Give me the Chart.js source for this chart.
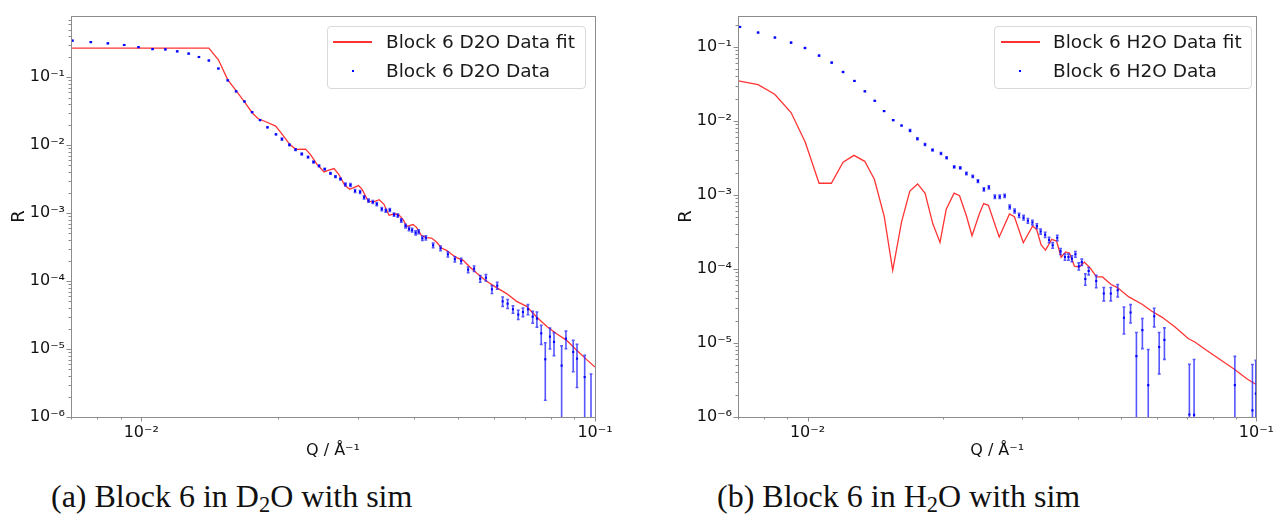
<!DOCTYPE html>
<html>
<head>
<meta charset="utf-8">
<script src="https://cdn.jsdelivr.net/npm/chart.js@4.4.1/dist/chart.umd.min.js"></script>
<style>
  body { margin: 0; background: #fff; width: 1280px; height: 514px; overflow: hidden; position: relative; font-family: 'DejaVu Sans'; }
  canvas { position: absolute; top: 0; }
  #chartD2O { left: 0; }
  #chartH2O { left: 640px; }
  .legend { position: absolute; top: 26px; height: 63px; box-sizing: border-box; border: 1px solid #d9d9d9; border-radius: 4px; background: rgba(255,255,255,0.8); }
  .lg-line { position: absolute; top: 41px; height: 1.5px; background: rgba(255,0,0,0.8); }
  .lg-dot { position: absolute; top: 70px; width: 2px; height: 2px; background: #0000ff; }
  .lg-text { position: absolute; font-size: 18.5px; line-height: 20px; color: #1a1a1a; white-space: nowrap; }
  .caption { position: absolute; top: 480px; font-family: 'Liberation Serif'; font-size: 32px; line-height: 32px; white-space: nowrap; color: #111; }
  .caption sub { font-size: 0.7em; vertical-align: -0.22em; line-height: 0; }
</style>
</head>
<body>
<canvas id="chartD2O" width="640" height="470"></canvas>
<canvas id="chartH2O" width="640" height="470"></canvas>

<div class="legend" style="left:327px; width:259px;"></div>
<div class="lg-line" style="left:333px; width:39px;"></div>
<div class="lg-text" style="left:386px; top:32px;">Block 6 D2O Data fit</div>
<div class="lg-dot" style="left:352px;"></div>
<div class="lg-text" style="left:386px; top:61px;">Block 6 D2O Data</div>

<div class="legend" style="left:994px; width:258px;"></div>
<div class="lg-line" style="left:1001px; width:39px;"></div>
<div class="lg-text" style="left:1053px; top:32px;">Block 6 H2O Data fit</div>
<div class="lg-dot" style="left:1019px;"></div>
<div class="lg-text" style="left:1053px; top:61px;">Block 6 H2O Data</div>

<div class="caption" style="left:51px;">(a) Block 6 in D<sub>2</sub>O with sim</div>
<div class="caption" style="left:717px;">(b) Block 6 in H<sub>2</sub>O with sim</div>

<script>
// D2O measured reflectivity (Q in 1/Angstrom), with error bars
const qD2O = [0.00705, 0.00774, 0.00844, 0.00917, 0.00986, 0.01059, 0.01130, 0.01200, 0.01272, 0.01340,
  0.01409, 0.01479, 0.01551, 0.01618, 0.01688, 0.01755, 0.01827, 0.01897, 0.01981, 0.02042,
  0.02121, 0.02188, 0.02258, 0.02331, 0.02397, 0.02465, 0.02537, 0.02612, 0.02679, 0.02748,
  0.02818, 0.02891, 0.02959, 0.03036, 0.03098, 0.03168, 0.03238, 0.03304, 0.03389, 0.03459,
  0.03530, 0.03607, 0.03676, 0.03741, 0.03823, 0.03891, 0.03953, 0.04024, 0.04086, 0.04164,
  0.04238, 0.04398, 0.04566, 0.04739, 0.04910, 0.05070, 0.05253, 0.05415, 0.05585, 0.05749,
  0.05927, 0.06089, 0.06258, 0.06418, 0.06594, 0.06774, 0.06938, 0.07116, 0.07289, 0.07447,
  0.07612, 0.07770, 0.07956, 0.08121, 0.08442, 0.08629, 0.08954, 0.09127, 0.09490, 0.09799];
const rD2O = [0.343, 0.327, 0.313, 0.296, 0.276, 0.258, 0.255, 0.239, 0.221, 0.197,
  0.175, 0.1334, 0.0894, 0.0617, 0.0437, 0.0305, 0.0233, 0.0182, 0.01436, 0.01222,
  0.01007, 0.00856, 0.00738, 0.00664, 0.00562, 0.00494, 0.00443, 0.00383, 0.00343, 0.00316,
  0.00264, 0.00258, 0.00211, 0.00204, 0.00170, 0.00152, 0.00145, 0.001355, 0.001145, 0.001084,
  0.001106, 0.000946, 0.000916, 0.000776, 0.000645, 0.000586, 0.000561, 0.000512, 0.000532, 0.000425,
  0.000432, 0.000335, 0.000303, 0.000247, 0.000209, 0.000197, 0.000147, 0.000152, 0.000108, 0.000112,
  7.55e-5, 8.55e-5, 5.02e-5, 4.65e-5, 3.84e-5, 3.21e-5, 3.50e-5, 3.84e-5, 2.99e-5, 2.80e-5,
  1.70e-5, 7.06e-6, 1.52e-5, 1.27e-5, 5.70e-6, 1.42e-5, 9.04e-6, 7.22e-6, 3.87e-6, 9.0e-7];
const eD2O = [0.0034, 0.0033, 0.0031, 0.003, 0.0028, 0.0026, 0.0026, 0.0024, 0.0022, 0.002,
  0.0018, 0.0013, 0.0009, 0.0006, 0.00044, 0.0003, 0.00023, 0.00018, 0.00015, 0.0004,
  0.0003, 0.00026, 0.00022, 0.0002, 0.00017, 0.00015, 0.00013, 0.00012, 0.0001, 0.0001,
  0.00013, 0.00013, 0.00011, 0.0001, 9e-5, 8e-5, 7e-5, 7e-5, 6e-5, 5.5e-5,
  5.5e-5, 5e-5, 5e-5, 4.5e-5, 4e-5, 3.5e-5, 3.5e-5, 3.5e-5, 3.5e-5, 3e-5,
  3e-5, 2.6e-5, 2.4e-5, 2.1e-5, 1.9e-5, 1.8e-5, 1.4e-5, 1.4e-5, 1.2e-5, 1.2e-5,
  1.0e-5, 1.0e-5, 7.9e-6, 7.0e-6, 4.8e-6, 5.0e-6, 5.1e-6, 6.5e-6, 5.9e-6, 7.0e-6,
  5.3e-6, 5.3e-6, 5.2e-6, 4.7e-6, 5.4e-6, 4.1e-6, 4.4e-6, 4.5e-6, 4.2e-6, 3.4e-6];

// D2O simulated fit
const qFitD2O = [0.00700, 0.01409, 0.01479, 0.01551, 0.01621, 0.01690, 0.01757, 0.01807, 0.01887, 0.01978,
  0.02053, 0.02124, 0.02189, 0.02302, 0.02358, 0.02440, 0.02528, 0.02580, 0.02660, 0.02724,
  0.02808, 0.02880, 0.03012, 0.03067, 0.03162, 0.03243, 0.03344, 0.03424, 0.03517, 0.03607,
  0.03688, 0.03776, 0.03848, 0.03973, 0.04042, 0.04142, 0.04252, 0.04362, 0.04474, 0.04589,
  0.04708, 0.04830, 0.04954, 0.05124, 0.05298, 0.05482, 0.05768, 0.06068, 0.06384, 0.06718,
  0.07067, 0.07435, 0.07822, 0.08230, 0.08658, 0.09113, 0.09587, 0.1000];
const rFitD2O = [0.267, 0.267, 0.179, 0.0910, 0.0621, 0.0429, 0.0296, 0.0245, 0.0218, 0.0190,
  0.0139, 0.01024, 0.00865, 0.00873, 0.00730, 0.00520, 0.00401, 0.00425, 0.00450, 0.00371,
  0.00255, 0.00223, 0.00253, 0.00223, 0.00150, 0.00145, 0.00157, 0.001355, 0.000925, 0.000967,
  0.000957, 0.000799, 0.000637, 0.000677, 0.000616, 0.000470, 0.000435, 0.000429, 0.000375, 0.000306,
  0.000283, 0.000247, 0.000221, 0.000201, 0.000161, 0.000131, 9.91e-5, 8.00e-5, 6.53e-5, 5.02e-5,
  4.24e-5, 2.96e-5, 2.16e-5, 1.68e-5, 1.34e-5, 9.58e-6, 6.98e-6, 5.43e-6];

// H2O measured reflectivity
const qH2O = [0.00707, 0.00776, 0.00846, 0.00919, 0.00987, 0.01061, 0.01132, 0.01200, 0.01272, 0.01342,
  0.01412, 0.01481, 0.01552, 0.01620, 0.01692, 0.01757, 0.01827, 0.01899, 0.01983, 0.02041,
  0.02122, 0.02189, 0.02259, 0.02334, 0.02397, 0.02471, 0.02535, 0.02614, 0.02680, 0.02749,
  0.02821, 0.02893, 0.02960, 0.03029, 0.03097, 0.03170, 0.03243, 0.03306, 0.03384, 0.03453,
  0.03517, 0.03601, 0.03662, 0.03745, 0.03814, 0.03881, 0.03952, 0.04021, 0.04083, 0.04158,
  0.04230, 0.04397, 0.04571, 0.04738, 0.04909, 0.05069, 0.05244, 0.05404, 0.05572, 0.05742,
  0.05921, 0.06073, 0.06239, 0.07091, 0.07264, 0.08954, 0.09799, 0.09970];
const rH2O = [0.1862, 0.1567, 0.1340, 0.1146, 0.0968, 0.0765, 0.0615, 0.0459, 0.0347, 0.0252,
  0.01874, 0.01361, 0.01028, 0.00867, 0.00741, 0.00574, 0.00480, 0.00405, 0.00364, 0.00318,
  0.00239, 0.00232, 0.00195, 0.00178, 0.00154, 0.00119, 0.00127, 0.000948, 0.000948, 0.000975,
  0.000689, 0.000608, 0.000532, 0.000495, 0.000448, 0.000424, 0.000380, 0.000321, 0.000290, 0.000247,
  0.000209, 0.000264, 0.000173, 0.000145, 0.000145, 0.000138, 0.000158, 0.000109, 0.000124, 7.33e-5,
  9.39e-5, 6.89e-5, 4.66e-5, 4.66e-5, 5.16e-5, 2.19e-5, 2.58e-5, 6.65e-6, 1.49e-5, 2.70e-6,
  2.30e-5, 8.83e-6, 1.10e-5, 1.08e-6, 1.07e-6, 2.70e-6, 1.23e-6, 2.07e-6];
const eH2O = [0.0019, 0.0016, 0.0013, 0.0011, 0.001, 0.0008, 0.0006, 0.0005, 0.00035, 0.00025,
  0.0002, 0.00014, 0.0001, 9e-5, 0.00022, 0.00017, 0.00014, 0.00012, 0.00011, 0.0001,
  8e-5, 8e-5, 7e-5, 6e-5, 6e-5, 6e-5, 6e-5, 5e-5, 5e-5, 5e-5,
  4e-5, 3.5e-5, 3.5e-5, 3.5e-5, 3.2e-5, 3e-5, 2.8e-5, 2.5e-5, 2.4e-5, 2.1e-5,
  1.8e-5, 2.2e-5, 1.6e-5, 1.4e-5, 1.4e-5, 1.3e-5, 1.4e-5, 1.2e-5, 1.2e-5, 1.3e-5,
  1.1e-5, 1.3e-5, 9.5e-6, 9.5e-6, 9.8e-6, 8.7e-6, 7.2e-6, 7.2e-6, 6.5e-6, 5.45e-6,
  6.5e-6, 5.0e-6, 5.0e-6, 4.07e-6, 4.9e-6, 3.9e-6, 3.9e-6, 3.76e-6];

// H2O simulated fit
const qFitH2O = [0.00701, 0.00776, 0.00845, 0.00919, 0.00988, 0.01061, 0.01130, 0.01200, 0.01269, 0.01341,
  0.01409, 0.01482, 0.01548, 0.01620, 0.01690, 0.01759, 0.01828, 0.01901, 0.01973, 0.02037,
  0.02121, 0.02181, 0.02259, 0.02325, 0.02416, 0.02468, 0.02529, 0.02673, 0.02818, 0.02890,
  0.03025, 0.03173, 0.03239, 0.03315, 0.03390, 0.03501, 0.03589, 0.03673, 0.03757, 0.03834,
  0.03932, 0.04033, 0.04136, 0.04257, 0.04404, 0.04541, 0.04738, 0.04901, 0.05199, 0.05563,
  0.05850, 0.06157, 0.06588, 0.07047, 0.07292, 0.07799, 0.08346, 0.08930, 0.09555, 0.09970];
const rFitH2O = [0.0348, 0.0310, 0.0230, 0.0130, 0.00520, 0.00144, 0.00144, 0.00277, 0.00343, 0.00285,
  0.00163, 0.000515, 9.6e-5, 0.000432, 0.00113, 0.00141, 0.00105, 0.000411, 0.000228, 0.000641,
  0.00106, 0.000975, 0.000524, 0.000281, 0.000561, 0.000766, 0.000726, 0.000270, 0.000553, 0.000507,
  0.000226, 0.000381, 0.000342, 0.000211, 0.000180, 0.000252, 0.000237, 0.000144, 0.000170, 0.000164,
  0.000109, 0.000106, 0.000124, 0.000104, 7.80e-5, 7.80e-5, 6.21e-5, 5.61e-5, 4.19e-5, 3.34e-5,
  2.68e-5, 2.24e-5, 1.64e-5, 1.15e-5, 1.03e-5, 7.73e-6, 5.83e-6, 4.42e-6, 3.23e-6, 2.77e-6];

// tick labels
const xDecades = [0.001, 0.01, 0.1];
const xTickValues = [0.01, 0.1];
const xTickLabels = ['10⁻²', '10⁻¹'];
const yDecades = [1e-6, 1e-5, 1e-4, 1e-3, 1e-2, 1e-1];
const yTickValues = [1e-6, 1e-5, 1e-4, 1e-3, 1e-2, 1e-1];
const yTickLabels = ['10⁻⁶', '10⁻⁵', '10⁻⁴', '10⁻³', '10⁻²', '10⁻¹'];

const AXIS_GRAY = '#8c8c8c';

// 1..9 x decade tick positions inside the axis range
function logTicks(decades, min, max) {
  const out = [];
  decades.forEach(d => {
    for (let k = 1; k < 10; k++) {
      const v = d * k;
      if (v >= min * 0.999 && v <= max * 1.001) out.push({ value: v, major: k === 1 });
    }
  });
  return out;
}

function labelFor(values, labels, v) {
  const i = values.findIndex(t => Math.abs(t - v) / t < 1e-6);
  return i >= 0 ? labels[i] : '';
}

// vertical error bars, drawn just before the data points
const errorBars = {
  id: 'errorBars',
  beforeDatasetDraw(chart, args) {
    const ds = chart.data.datasets[args.index];
    if (!ds.errors) return;
    const { ctx, chartArea: a, scales: { x, y } } = chart;
    ctx.save();
    ctx.beginPath();
    ctx.rect(a.left, a.top, a.right - a.left, a.bottom - a.top);
    ctx.clip();
    ctx.strokeStyle = 'rgba(30,30,255,0.75)';
    ctx.lineWidth = 1.6;
    ds.data.forEach((p, i) => {
      const e = ds.errors[i];
      const px = x.getPixelForValue(p.x);
      const top = y.getPixelForValue(p.y + e);
      const low = p.y - e;
      const bot = low > 0 ? y.getPixelForValue(low) : a.bottom + 10;
      ctx.beginPath();
      ctx.moveTo(px, top); ctx.lineTo(px, bot);
      ctx.moveTo(px - 1.4, top); ctx.lineTo(px + 1.4, top);
      ctx.moveTo(px - 1.4, bot); ctx.lineTo(px + 1.4, bot);
      ctx.stroke();
    });
    ctx.restore();
  }
};

// full box round the axes plus outward tick marks (bottom and left)
const frame = {
  id: 'frame',
  afterDraw(chart) {
    const { ctx, chartArea: a, scales: { x, y } } = chart;
    ctx.save();
    ctx.strokeStyle = AXIS_GRAY;
    ctx.lineWidth = 1;
    ctx.strokeRect(Math.round(a.left) + 0.5, Math.round(a.top) + 0.5,
      Math.round(a.right - a.left), Math.round(a.bottom - a.top));
    ctx.beginPath();
    x.ticks.forEach(t => {
      const px = Math.round(x.getPixelForValue(t.value)) + 0.5;
      const len = t.major ? 4.5 : 2.5;
      ctx.moveTo(px, a.bottom); ctx.lineTo(px, a.bottom + len);
    });
    y.ticks.forEach(t => {
      const py = Math.round(y.getPixelForValue(t.value)) + 0.5;
      const len = t.major ? 4.5 : 2.5;
      ctx.moveTo(a.left, py); ctx.lineTo(a.left - len, py);
    });
    ctx.stroke();
    ctx.restore();
  }
};

function makeChart(id, s) {
  const ctx = document.getElementById(id).getContext('2d');
  return new Chart(ctx, {
    type: 'scatter',
    data: {
      datasets: [{
        label: s.dataLabel,
        data: s.q.map((q, i) => ({ x: q, y: s.r[i] })),
        errors: s.e,
        pointStyle: 'rect',
        pointRadius: 1.5,
        borderWidth: 0,
        backgroundColor: '#0000ff'
      }, {
        label: s.fitLabel,
        data: s.qFit.map((q, i) => ({ x: q, y: s.rFit[i] })),
        showLine: true,
        pointRadius: 0,
        borderColor: 'rgba(255,0,0,0.8)',
        borderWidth: 1.3,
        tension: 0
      }]
    },
    options: {
      responsive: false,
      animation: false,
      devicePixelRatio: 1,
      events: [],
      layout: { padding: { top: 16, right: s.padRight, left: 0, bottom: 0 } },
      plugins: { legend: { display: false }, tooltip: { enabled: false } },
      scales: {
        x: {
          type: 'logarithmic',
          min: 0.007,
          max: 0.1,
          afterBuildTicks: sc => { sc.ticks = logTicks(xDecades, 0.007, 0.1); },
          afterFit: sc => { sc.height = 53; },
          grid: { display: false, drawTicks: false },
          border: { display: false },
          ticks: {
            autoSkip: false, maxRotation: 0, padding: 6,
            color: '#111', font: { family: 'DejaVu Sans', size: 16 },
            callback: v => labelFor(xTickValues, xTickLabels, v)
          },
          title: {
            display: true, text: 'Q / Å⁻¹', color: '#111',
            font: { family: 'DejaVu Sans', size: 16 },
            padding: { top: 0, bottom: 10 }
          }
        },
        y: {
          type: 'logarithmic',
          min: 1e-6,
          max: s.yMax,
          afterBuildTicks: sc => { sc.ticks = logTicks(yDecades, 1e-6, s.yMax); },
          afterFit: sc => { sc.width = s.yWidth; },
          grid: { display: false, drawTicks: false },
          border: { display: false },
          ticks: {
            autoSkip: false, padding: 6,
            color: '#111', font: { family: 'DejaVu Sans', size: 16 },
            callback: v => labelFor(yTickValues, yTickLabels, v)
          },
          title: {
            display: true, text: 'R', color: '#111',
            font: { family: 'DejaVu Sans', size: 18 },
            padding: { top: s.yTitlePad, bottom: 0 }
          }
        }
      }
    },
    plugins: [errorBars, frame]
  });
}

makeChart('chartD2O', {
  q: qD2O, r: rD2O, e: eD2O, qFit: qFitD2O, rFit: rFitD2O,
  dataLabel: 'Block 6 D2O Data', fitLabel: 'Block 6 D2O Data fit',
  yMax: 0.79, yWidth: 71, yTitlePad: 9, padRight: 45
});
makeChart('chartH2O', {
  q: qH2O, r: rH2O, e: eH2O, qFit: qFitH2O, rFit: rFitH2O,
  dataLabel: 'Block 6 H2O Data', fitLabel: 'Block 6 H2O Data fit',
  yMax: 0.262, yWidth: 98, yTitlePad: 36, padRight: 18
});
</script>
</body>
</html>
